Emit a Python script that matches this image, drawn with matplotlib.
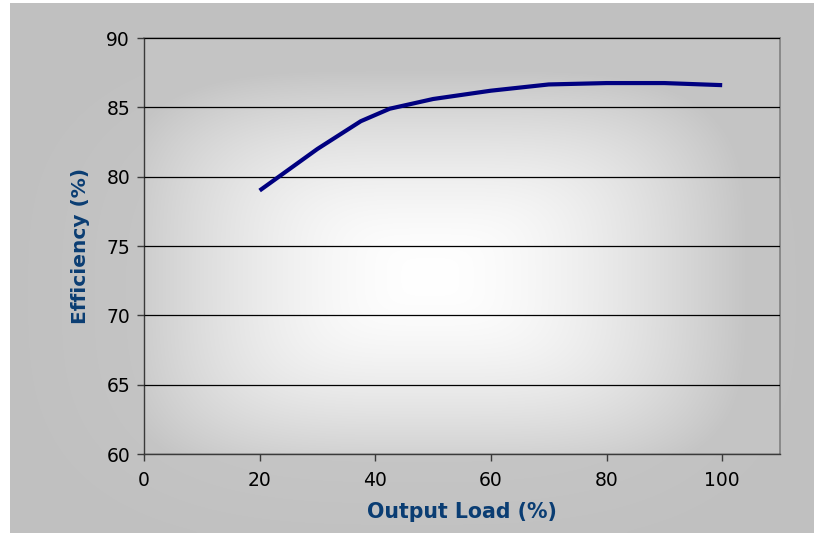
import numpy as np
import matplotlib
matplotlib.use("Agg")
import matplotlib.pyplot as plt

# efficiency curve
load_pct = [20, 30, 37.5, 42.5, 50, 60, 70, 80, 90, 100]
efficiency = [79.0, 82.0, 84.0, 84.9, 85.6, 86.2, 86.65, 86.75, 86.75, 86.6]

y_ticks = [60, 65, 70, 75, 80, 85, 90]
x_ticks = [0, 20, 40, 60, 80, 100]

label_color = "#0a3d73"
line_color = "#000080"


def soft_box_gradient(nx, ny, inner, outer, cx=0.0, cy=0.0, p=4.0, power=1.0):
    u = np.linspace(-1, 1, nx) - cx
    v = np.linspace(-1, 1, ny) - cy
    uu, vv = np.meshgrid(u, v)
    # superellipse distance -> rounded box shaped bands
    t = (np.abs(uu) ** p + np.abs(vv) ** p) ** (1 / p)
    t = np.clip(t, 0, 1) ** power
    img = inner[None, None, :] * (1 - t[..., None]) + outer[None, None, :] * t[..., None]
    return img


fig = plt.figure(figsize=(8.19, 5.33), dpi=100)
fig.patch.set_facecolor("white")

# chart area background (grey, slight gradient)
bg = fig.add_axes([10 / 819, 0, 804 / 819, 530 / 533], zorder=-2)
bg.imshow(soft_box_gradient(200, 150, np.array([0.82, 0.82, 0.82]), np.array([0.755, 0.755, 0.755]),
                            cy=0.1, p=3.0, power=0.7),
          aspect="auto", extent=[0, 1, 0, 1], interpolation="bicubic")
bg.set_axis_off()

ax = fig.add_axes([144 / 819, 79 / 533, 636 / 819, 416 / 533])
ax.set_xlim(0, 110)
ax.set_ylim(60, 90)

# plot area gradient: white centre fading to grey edges
grad = soft_box_gradient(300, 200, np.array([1.0, 1.0, 1.0]), np.array([0.77, 0.77, 0.77]),
                         cx=-0.1, cy=0.15, p=4.0, power=1.7)
ax.imshow(grad, aspect="auto", extent=[0, 110, 60, 90], interpolation="bicubic", zorder=0)

ax.set_yticks(y_ticks)
ax.set_xticks(x_ticks)
ax.yaxis.grid(True, color="black", linewidth=0.9, zorder=1)
ax.set_axisbelow(False)

ax.plot(load_pct, efficiency, color=line_color, linewidth=3.0, solid_capstyle="butt",
        solid_joinstyle="miter", zorder=3)

for side in ["top", "right"]:
    ax.spines[side].set_color("#808080")
    ax.spines[side].set_linewidth(1.2)
for side in ["left", "bottom"]:
    ax.spines[side].set_color("#3a3a3a")
    ax.spines[side].set_linewidth(1.0)

ax.tick_params(axis="both", direction="out", length=5, width=1.0, color="#3a3a3a",
               labelsize=13.5, labelcolor="black")
ax.tick_params(axis="y", pad=5)
ax.tick_params(axis="x", pad=7)

ax.set_xlabel("Output Load (%)", fontsize=14.8, fontweight="bold", color=label_color, labelpad=9)
ax.set_ylabel("Efficiency (%)", fontsize=14.5, fontweight="bold", color=label_color, labelpad=12)

fig.savefig("out.png", dpi=100)
